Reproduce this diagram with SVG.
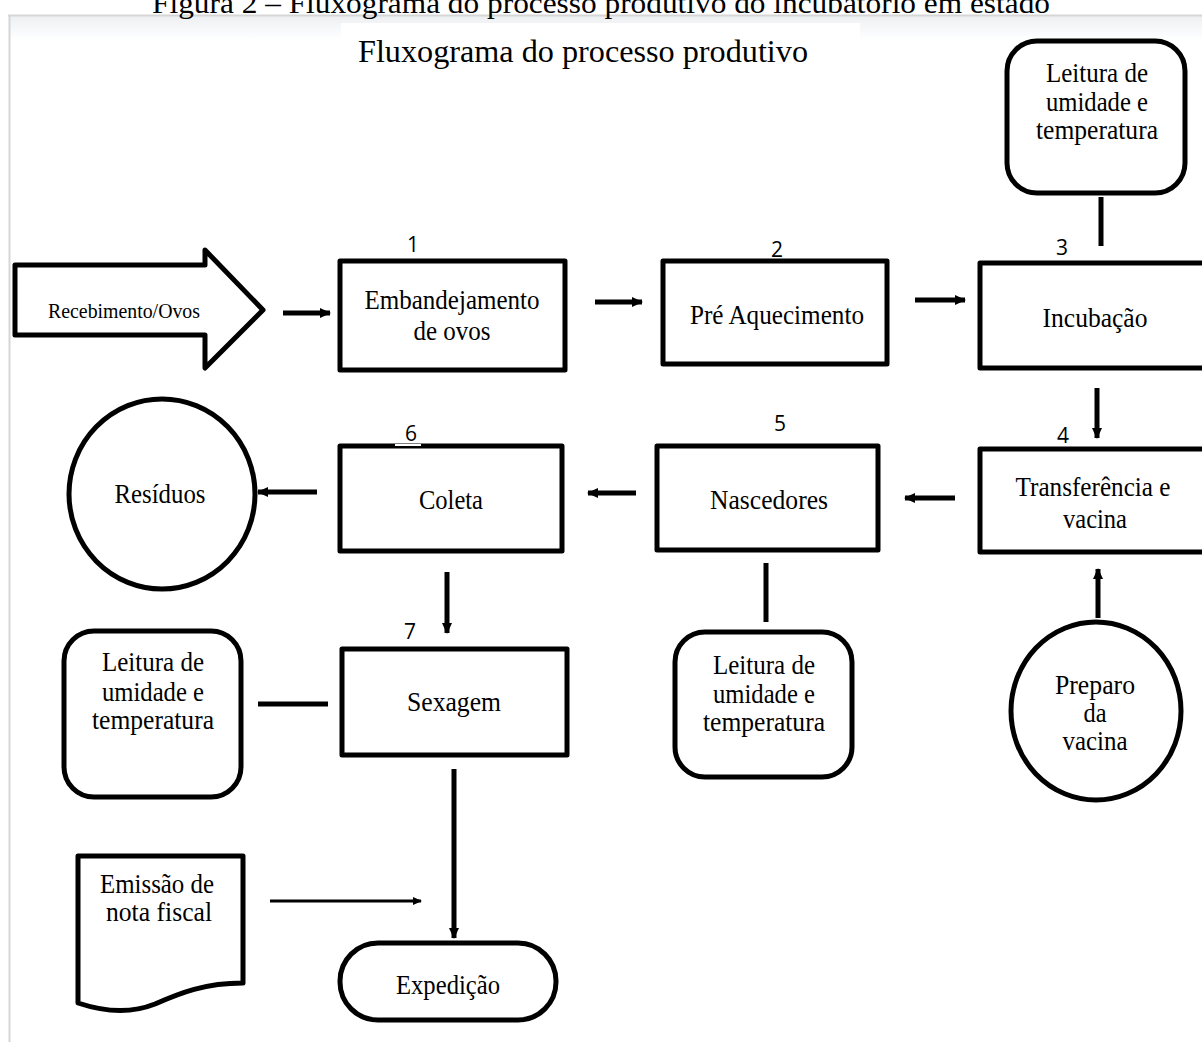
<svg xmlns="http://www.w3.org/2000/svg" width="1202" height="1042" viewBox="0 0 1202 1042">
<defs>
<linearGradient id="band" x1="0" y1="0" x2="0" y2="1">
<stop offset="0" stop-color="#eceff2"/>
<stop offset="1" stop-color="#ffffff"/>
</linearGradient>
<marker id="ah" markerUnits="userSpaceOnUse" markerWidth="12" markerHeight="12" refX="10" refY="6" orient="auto">
<path d="M0,1 L11,6 L0,11 z" fill="#000"/>
</marker>
<marker id="ahs" markerUnits="userSpaceOnUse" markerWidth="10" markerHeight="10" refX="8" refY="5" orient="auto">
<path d="M0,1 L9,5 L0,9 z" fill="#000"/>
</marker>
</defs>
<style>
.bx{fill:#fff;stroke:#000;stroke-width:5;stroke-linejoin:round}
.t{font-family:"Liberation Serif","Times New Roman",serif;font-size:28px;fill:#000;text-anchor:middle}
.n{font-family:"Open Sans","Liberation Sans",sans-serif;font-size:21px;fill:#000;text-anchor:middle}
.c{stroke:#000;stroke-width:5;fill:none}
</style>
<rect x="0" y="0" width="1202" height="1042" fill="#fff"/>
<rect x="9" y="15" width="1193" height="25" fill="url(#band)"/>
<rect x="341" y="23" width="519" height="40" fill="#fff"/>
<line x1="8" y1="15.5" x2="1202" y2="15.5" stroke="#d6d6d6" stroke-width="2"/>
<line x1="9.5" y1="15" x2="9.5" y2="1042" stroke="#d6d6d6" stroke-width="2"/>
<text x="601" y="13" font-family="Liberation Serif, serif" font-size="29" text-anchor="middle" textLength="898" lengthAdjust="spacingAndGlyphs">Figura 2 – Fluxograma do processo produtivo do incubatório em estado</text>
<text x="583" y="62" font-family="Liberation Serif, serif" font-size="31" text-anchor="middle" textLength="450" lengthAdjust="spacingAndGlyphs">Fluxograma  do processo produtivo</text>

<g id="recebimento">
<path class="bx" d="M15,265 H205 V250 L263,310 L205,368 V335 H15 Z"/>
<text class="t" x="124" y="318" style="font-size:22px" textLength="152" lengthAdjust="spacingAndGlyphs">Recebimento/Ovos</text>
</g>
<g id="n1">
<rect class="bx" x="340" y="261" width="225" height="109"/>
<text class="n" x="413" y="252">1</text>
<text class="t" x="452" y="309" textLength="175" lengthAdjust="spacingAndGlyphs">Embandejamento</text>
<text class="t" x="452" y="340" textLength="77" lengthAdjust="spacingAndGlyphs">de ovos</text>
</g>
<g id="n2">
<rect class="bx" x="663" y="261" width="224" height="103"/>
<text class="n" x="777" y="257">2</text>
<text class="t" x="777" y="324" textLength="174" lengthAdjust="spacingAndGlyphs">Pré Aquecimento</text>
</g>
<g id="n3">
<rect class="bx" x="980" y="263" width="230" height="105"/>
<text class="n" x="1062" y="255">3</text>
<text class="t" x="1095" y="327" textLength="105" lengthAdjust="spacingAndGlyphs">Incubação</text>
</g>
<g id="leitura1">
<rect class="bx" x="1007" y="41" width="178" height="152" rx="30"/>
<text class="t" x="1097" y="82" textLength="102" lengthAdjust="spacingAndGlyphs">Leitura de</text>
<text class="t" x="1097" y="111" textLength="102" lengthAdjust="spacingAndGlyphs">umidade e</text>
<text class="t" x="1097" y="139" textLength="122" lengthAdjust="spacingAndGlyphs">temperatura</text>
</g>
<g id="n4">
<rect class="bx" x="980" y="449" width="230" height="103"/>
<text class="n" x="1063" y="443">4</text>
<text class="t" x="1093" y="496" textLength="155" lengthAdjust="spacingAndGlyphs">Transferência e</text>
<text class="t" x="1095" y="528" textLength="64" lengthAdjust="spacingAndGlyphs">vacina</text>
</g>
<g id="preparo">
<ellipse class="bx" cx="1096" cy="711" rx="85" ry="89"/>
<text class="t" x="1095" y="694" textLength="80" lengthAdjust="spacingAndGlyphs">Preparo</text>
<text class="t" x="1095" y="722" textLength="23" lengthAdjust="spacingAndGlyphs">da</text>
<text class="t" x="1095" y="750" textLength="65" lengthAdjust="spacingAndGlyphs">vacina</text>
</g>
<g id="n5">
<rect class="bx" x="657" y="446" width="221" height="104"/>
<text class="n" x="780" y="431">5</text>
<text class="t" x="769" y="509" textLength="118" lengthAdjust="spacingAndGlyphs">Nascedores</text>
</g>
<g id="leitura2">
<rect class="bx" x="675" y="632" width="177" height="145" rx="30"/>
<text class="t" x="764" y="674" textLength="102" lengthAdjust="spacingAndGlyphs">Leitura de</text>
<text class="t" x="764" y="703" textLength="102" lengthAdjust="spacingAndGlyphs">umidade e</text>
<text class="t" x="764" y="731" textLength="122" lengthAdjust="spacingAndGlyphs">temperatura</text>
</g>
<g id="n6">
<rect class="bx" x="340" y="446" width="222" height="105"/>
<line x1="395" y1="445" x2="421" y2="445" stroke="#fff" stroke-width="2"/>
<text class="n" x="411" y="441">6</text>
<text class="t" x="451" y="509" textLength="64" lengthAdjust="spacingAndGlyphs">Coleta</text>
</g>
<g id="residuos">
<ellipse class="bx" cx="162" cy="494" rx="93" ry="95"/>
<text class="t" x="160" y="503" textLength="91" lengthAdjust="spacingAndGlyphs">Resíduos</text>
</g>
<g id="n7">
<rect class="bx" x="342" y="649" width="225" height="106"/>
<text class="n" x="410" y="639">7</text>
<text class="t" x="454" y="711" textLength="94" lengthAdjust="spacingAndGlyphs">Sexagem</text>
</g>
<g id="leitura3">
<rect class="bx" x="64" y="631" width="177" height="166" rx="30"/>
<text class="t" x="153" y="671" textLength="102" lengthAdjust="spacingAndGlyphs">Leitura de</text>
<text class="t" x="153" y="701" textLength="102" lengthAdjust="spacingAndGlyphs">umidade e</text>
<text class="t" x="153" y="729" textLength="122" lengthAdjust="spacingAndGlyphs">temperatura</text>
</g>
<g id="emissao">
<path class="bx" d="M78,856 H243 V983 C205,983 180,993 155,1004 C130,1014 105,1012 78,1003 Z"/>
<text class="t" x="157" y="893" textLength="114" lengthAdjust="spacingAndGlyphs">Emissão de</text>
<text class="t" x="159" y="921" textLength="106" lengthAdjust="spacingAndGlyphs">nota fiscal</text>
</g>
<g id="expedicao">
<rect class="bx" x="340" y="943" width="216" height="77" rx="38"/>
<text class="t" x="448" y="994" textLength="104" lengthAdjust="spacingAndGlyphs">Expedição</text>
</g>

<g id="connectors">
<line class="c" x1="283" y1="313" x2="330" y2="313" marker-end="url(#ah)"/>
<line class="c" x1="595" y1="302" x2="642" y2="302" marker-end="url(#ah)"/>
<line class="c" x1="915" y1="300" x2="965" y2="300" marker-end="url(#ah)"/>
<line class="c" x1="1101" y1="197" x2="1101" y2="246"/>
<line class="c" x1="1097" y1="388" x2="1097" y2="438" marker-end="url(#ah)"/>
<line class="c" x1="1098" y1="618" x2="1098" y2="569" marker-end="url(#ah)"/>
<line class="c" x1="955" y1="498" x2="905" y2="498" marker-end="url(#ah)"/>
<line class="c" x1="766" y1="563" x2="766" y2="622"/>
<line class="c" x1="636" y1="493" x2="588" y2="493" marker-end="url(#ah)"/>
<line class="c" x1="317" y1="492" x2="258" y2="492" marker-end="url(#ah)"/>
<line class="c" x1="447" y1="572" x2="447" y2="633" marker-end="url(#ah)"/>
<line class="c" x1="258" y1="704" x2="328" y2="704"/>
<line class="c" x1="454" y1="769" x2="454" y2="938" marker-end="url(#ah)"/>
<line class="c" x1="270" y1="901" x2="421" y2="901" style="stroke-width:3" marker-end="url(#ahs)"/>
</g>
</svg>
